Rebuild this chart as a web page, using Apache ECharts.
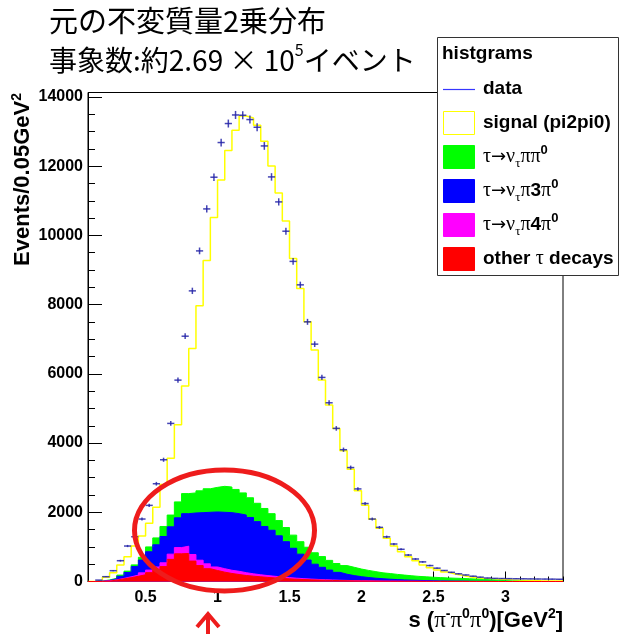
<!DOCTYPE html>
<html><head><meta charset="utf-8">
<script src="https://cdn.jsdelivr.net/npm/echarts@6/dist/echarts.min.js"></script>
<style>html,body{margin:0;padding:0;background:#fff}#c{width:621px;height:634px}</style>
</head><body><div id="c"></div>
<script>
// Histogram binning: s from 0.1 to 3.4 GeV^2, 0.05 GeV^2 per bin
const binStart = 0.1, binWidth = 0.05, binCount = 66, xMin = 0.1, xMax = 3.4, yMax = 14130;
const xTickLabels = ['0.5', '1', '1.5', '2', '2.5', '3'];
const yTickLabels = ['0', '2000', '4000', '6000', '8000', '10000', '12000', '14000'];

// per-bin contributions (events / 0.05 GeV^2)
const otherTau = [0,3,12,40,75,110,150,195,255,330,430,640,800,810,590,460,370,318,270,232,202,173,154,135,118,102,88,76,65,56,48,41,35,30,26,22,18,15,13,11,9,8,7,6,5,4,4,3,3,2,2,2,1,1,1,1,0,0,0,0,0,0,0,0,0,0];
const pi4pi0 = [0,2,8,10,15,25,35,55,75,90,110,150,180,210,190,155,140,102,100,93,93,82,68,60,52,48,42,36,31,26,22,19,16,14,11,9,8,7,6,5,4,3,3,2,2,2,1,1,1,1,1,1,1,0,0,0,0,0,0,0,0,0,0,0,0,0];
const pi3pi0 = [0,3,12,25,60,125,245,370,530,640,760,790,860,940,1200,1375,1490,1590,1630,1665,1665,1665,1628,1535,1420,1330,1190,1038,864,708,550,440,359,286,228,179,144,118,96,79,67,55,45,38,31,26,22,18,14,12,9,8,6,4,4,3,2,2,1,0,0,0,0,0,0,0];
const pipi0 = [0,4,13,20,35,40,50,80,140,200,290,340,460,580,580,630,680,710,750,740,700,640,570,530,520,480,440,410,380,360,370,330,310,280,255,250,240,220,205,190,170,164,150,139,127,116,108,101,94,88,83,78,72,64,55,44,33,23,14,8,3,0,0,0,0,0];
const signal = [0,8,76,159,292,416,545,614,681,883,1210,1638,2228,3106,4175,5345,6596,7798,8854,9723,10379,10892,10975,10924,10612,10048,9469,8860,7994,7318,6513,5856,5099,4487,3904,3318,2830,2263,1880,1511,1286,1018,820,676,551,453,342,276,220,171,122,91,59,40,30,32,29,30,30,30,29,27,22,18,15,12];
const dataCounts = [0,40,139,312,601,1025,1294,1805,2200,2825,3518,4568,5819,7088,8398,9553,10766,11682,12684,13233,13481,13473,13348,13126,12586,11691,10969,10122,9250,8572,7503,6859,5897,5164,4424,3808,3292,2675,2252,1805,1564,1290,1083,930,765,650,567,460,385,318,265,222,188,153,125,100,90,85,82,80,78,75,72,70,68,65];

const edges = [];
for (let i = 0; i <= binCount; i++) edges.push(+(binStart + i * binWidth).toFixed(4));

function cumulate(layers) {
  return edges.slice(0, binCount).map((_, i) => layers.reduce((s, a) => s + a[i], 0));
}
const cumRed = cumulate([otherTau]);
const cumMag = cumulate([otherTau, pi4pi0]);
const cumBlue = cumulate([otherTau, pi4pi0, pi3pi0]);
const cumGreen = cumulate([otherTau, pi4pi0, pi3pi0, pipi0]);
const cumTotal = cumulate([otherTau, pi4pi0, pi3pi0, pipi0, signal]);

function stepData(cum) {
  const d = cum.map((v, i) => [edges[i], v]);
  d.push([edges[binCount], cum[binCount - 1]]);
  return d;
}
function histSeries(name, cum, color, fill, width) {
  const s = {
    name, type: 'line', step: 'end', data: stepData(cum), symbol: 'none', silent: true,
    lineStyle: { color, width: width || 1 }
  };
  if (fill) s.areaStyle = { color, opacity: 1 };
  return s;
}

const pointData = dataCounts.map((v, i) => [edges[i], edges[i + 1], (edges[i] + edges[i + 1]) / 2, v]);

const sans = '"Liberation Sans", Arial, sans-serif';
const serif = '"Liberation Serif", "DejaVu Serif", serif';
const arrowFont = '"DejaVu Sans", sans-serif';
const jp = '"Noto Sans CJK JP", sans-serif';

const chart = echarts.init(document.getElementById('c'), null, { renderer: 'canvas' });
const legendRows = [
  { y: 123, text: 'signal (pi2pi0)', fill: '#ffffff', stroke: '#ffff00', rich: false },
  { y: 157, text: '{g|τ}{a|→}{g|ν}{sub|τ}{g|ππ}{sup|0}', fill: '#00ff00', stroke: '#00ff00', rich: true },
  { y: 191, text: '{g|τ}{a|→}{g|ν}{sub|τ}{g|π}{b|3}{g|π}{sup|0}', fill: '#0000ff', stroke: '#0000ff', rich: true },
  { y: 225, text: '{g|τ}{a|→}{g|ν}{sub|τ}{g|π}{b|4}{g|π}{sup|0}', fill: '#ff00ff', stroke: '#ff00ff', rich: true },
  { y: 259, text: '{b|other }{g|τ}{b| decays}', fill: '#ff0000', stroke: '#ff0000', rich: true }
];
const richLegend = {
  g: { fontFamily: serif, fontSize: 20, lineHeight: 26, color: '#000' },
  a: { fontFamily: arrowFont, fontSize: 18, lineHeight: 26, color: '#000' },
  b: { fontFamily: sans, fontWeight: 'bold', fontSize: 19, lineHeight: 26, color: '#000' },
  sub: { fontFamily: serif, fontSize: 13, verticalAlign: 'bottom', color: '#000' },
  sup: { fontFamily: sans, fontWeight: 'bold', fontSize: 13, verticalAlign: 'top', color: '#000' }
};
const graphics = [
  { type: 'text', x: 49, y: 21, z: 50, style: { text: '元の不変質量2乗分布', font: '29px ' + jp, fill: '#000', verticalAlign: 'middle' } },
  { type: 'text', x: 49, y: 60, z: 50, style: {
      text: '{m|事象数:約2.69 × 10}{s|5}{m|イベント}', verticalAlign: 'middle',
      rich: { m: { fontFamily: jp, fontSize: 28, lineHeight: 36, color: '#000' },
              s: { fontFamily: jp, fontSize: 16, verticalAlign: 'top', color: '#000' } } } },
  // legend
  { type: 'rect', z: 40, shape: { x: 437.5, y: 37.5, width: 181, height: 238 }, style: { fill: '#fff', stroke: '#333', lineWidth: 1 } },
  { type: 'text', x: 442, y: 54, z: 41, style: { text: 'histgrams', font: 'bold 19px ' + sans, fill: '#000', verticalAlign: 'middle' } },
  { type: 'line', z: 41, shape: { x1: 443, y1: 89.5, x2: 475, y2: 89.5 }, style: { stroke: '#3636ff', lineWidth: 1.2 } },
  { type: 'text', x: 483, y: 89, z: 41, style: { text: 'data', font: 'bold 19px ' + sans, fill: '#000', verticalAlign: 'middle' } },
  // annotations
  { type: 'ellipse', z: 60, shape: { cx: 224.5, cy: 530.5, rx: 90, ry: 60.5 }, style: { fill: 'none', stroke: '#ee1c1c', lineWidth: 5 } },
  { type: 'line', z: 60, shape: { x1: 208, y1: 615, x2: 208, y2: 640 }, style: { stroke: '#ee1c1c', lineWidth: 4 } },
  { type: 'polyline', z: 60, shape: { points: [[197, 627], [208, 614], [219, 627]] }, style: { fill: 'none', stroke: '#ee1c1c', lineWidth: 4 } },
  // axis titles
  { type: 'text', x: 23, y: 93, z: 50, rotation: Math.PI / 2, style: {
      text: '{t|Events/0.05GeV}{s|2}', align: 'right', verticalAlign: 'middle',
      rich: { t: { fontFamily: sans, fontWeight: 'bold', fontSize: 22, lineHeight: 26, color: '#000' },
              s: { fontFamily: sans, fontWeight: 'bold', fontSize: 14, verticalAlign: 'top', color: '#000' } } } },
  { type: 'text', x: 563, y: 621, z: 50, style: {
      text: '{t|s (}{g|π}{s|-}{g|π}{s|0}{g|π}{s|0}{t|)[GeV}{s|2}{t|]}', align: 'right', verticalAlign: 'middle',
      rich: { t: { fontFamily: sans, fontWeight: 'bold', fontSize: 22, lineHeight: 28, color: '#000' },
              g: { fontFamily: serif, fontSize: 23, lineHeight: 28, color: '#000' },
              s: { fontFamily: sans, fontWeight: 'bold', fontSize: 14, verticalAlign: 'top', color: '#000' } } } }
];
legendRows.forEach(r => {
  graphics.push({ type: 'rect', z: 41, shape: { x: 443.5, y: r.y - 11.5, width: 31, height: 23 }, style: { fill: r.fill, stroke: r.stroke, lineWidth: 1 } });
  graphics.push({ type: 'text', x: 483, y: r.y, z: 41, style: r.rich
    ? { text: r.text, rich: richLegend, verticalAlign: 'middle' }
    : { text: r.text, font: 'bold 19px ' + sans, fill: '#000', verticalAlign: 'middle' } });
});

const option = {
  animation: false,
  backgroundColor: '#fff',
  grid: { left: 88, right: 58, top: 92.5, bottom: 52.5, show: true, borderColor: '#000', borderWidth: 1, backgroundColor: 'transparent' },
  xAxis: [
    { type: 'value', position: 'bottom', min: xMin, max: xMax, minInterval: 0.5, maxInterval: 0.5,
      axisLine: { show: true, onZero: false, lineStyle: { color: '#000', width: 1 } },
      axisTick: { show: true, inside: true, length: 10, lineStyle: { color: '#000' } },
      splitLine: { show: false },
      axisLabel: { show: true, showMinLabel: false, showMaxLabel: false, margin: 8, color: '#000',
        fontFamily: sans, fontWeight: 'bold', fontSize: 16,
        formatter: v => xTickLabels.find(t => Math.abs(parseFloat(t) - v) < 1e-6) || '' } },
    { type: 'value', position: 'bottom', min: xMin, max: xMax, interval: 0.1,
      axisLine: { show: false }, axisLabel: { show: false }, splitLine: { show: false },
      axisTick: { show: true, inside: true, length: 5, lineStyle: { color: '#000' } } }
  ],
  yAxis: [
    { type: 'value', position: 'left', min: 0, max: yMax, interval: 2000,
      axisLine: { show: true, onZero: false, lineStyle: { color: '#000', width: 1 } },
      axisTick: { show: true, inside: true, length: 14, lineStyle: { color: '#000' } },
      splitLine: { show: false },
      axisLabel: { showMaxLabel: false, margin: 5, color: '#000', fontFamily: sans, fontWeight: 'bold', fontSize: 16,
        formatter: v => yTickLabels.find(t => +t === v) || '' } },
    { type: 'value', position: 'left', min: 0, max: yMax, interval: 500,
      axisLine: { show: false }, axisLabel: { show: false }, splitLine: { show: false },
      axisTick: { show: true, inside: true, length: 7, lineStyle: { color: '#000' } } }
  ],
  series: [
    histSeries('signal (pi2pi0)', cumTotal, '#ffff00', false, 1.5),
    histSeries('τ→ντππ0', cumGreen, '#00ff00', true),
    histSeries('τ→ντπ3π0', cumBlue, '#0000ff', true),
    histSeries('τ→ντπ4π0', cumMag, '#ff00ff', true),
    histSeries('other τ decays', cumRed, '#ff0000', true),
    { name: 'data', type: 'custom', data: pointData, silent: true, z: 5,
      renderItem: (params, api) => {
        const lo = api.value(0), hi = api.value(1), c = api.value(2), v = api.value(3);
        if (!v) return null;
        const a = api.coord([lo, v]), b = api.coord([hi, v]);
        const e = Math.sqrt(v);
        const t = api.coord([c, v + e]), d = api.coord([c, v - e]);
        const st = { stroke: '#2424a8', lineWidth: 1.5, opacity: 0.85 };
        return { type: 'group', children: [
          { type: 'line', shape: { x1: a[0], y1: a[1], x2: b[0], y2: b[1] }, style: st },
          { type: 'line', shape: { x1: t[0], y1: t[1], x2: d[0], y2: d[1] }, style: st }
        ] };
      } }
  ],
  graphic: graphics
};
chart.setOption(option);
</script></body></html>
